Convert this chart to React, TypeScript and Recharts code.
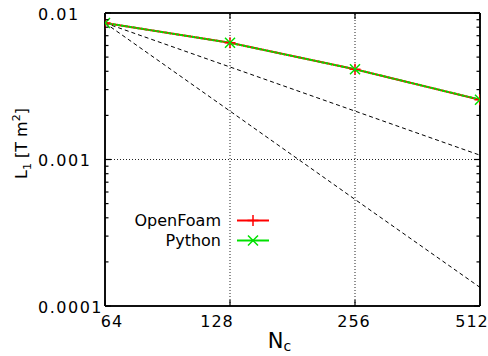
import React from 'react';
import { ComposedChart, Line, XAxis, YAxis, ReferenceLine, Legend } from 'recharts';

// ---- data ----
const cells = [64, 128, 256, 512];
const openFoam = [0.00855, 0.00626, 0.00413, 0.00256];
const python = [0.00855, 0.00626, 0.00413, 0.00256];
const firstOrder = [0.00855, 0.00428, 0.00214, 0.00107];
const secondOrder = [0.00855, 0.00214, 0.000534, 0.000134];

const xTicks = [64, 128, 256, 512];
const xTickLabels = ['64', '128', '256', '512'];
const xLabelShift = [7, -13, -1, -8];
const yMajor = [0.0001, 0.001, 0.01];
const yMajorLabels = ['0.0001', '0.001', '0.01'];
const yMinor = [0.0002, 0.0003, 0.0004, 0.0005, 0.0006, 0.0007, 0.0008, 0.0009,
  0.002, 0.003, 0.004, 0.005, 0.006, 0.007, 0.008, 0.009];
const xGrid = [128, 256];
const yGrid = [0.001];
const xDomain = [64, 512];
const yDomain = [0.0001, 0.01];

const seriesNames = ['OpenFoam', 'Python'];
const seriesColors = ['#ff0000', '#00e000'];

const data = cells.map((n, i) => ({
  n,
  openFoam: openFoam[i],
  python: python[i],
  firstOrder: firstOrder[i],
  secondOrder: secondOrder[i],
}));

const yTicks = [...yMajor, ...yMinor].sort((a, b) => a - b);

const FONT = '"DejaVu Sans", sans-serif';
const AXIS = '#000000';

const isMajorY = (v: number) => yMajor.some((m) => Math.abs(m - v) / m < 1e-6);
const majorYLabel = (v: number) => {
  const i = yMajor.findIndex((m) => Math.abs(m - v) / m < 1e-6);
  return i >= 0 ? yMajorLabels[i] : '';
};

const LeftTick = (props: any) => {
  const { x, y, payload } = props;
  const major = isMajorY(payload.value);
  return (
    <g>
      <line x1={x} x2={x + (major ? 6 : 3.5)} y1={y} y2={y} stroke={AXIS} strokeWidth={1.2} />
      {major && (
        <text x={x - 67} y={y + 1} textAnchor="start" dominantBaseline="central"
          fontFamily={FONT} fontSize={16} letterSpacing={1.5} fill="#000">
          {majorYLabel(payload.value)}
        </text>
      )}
    </g>
  );
};

const RightTick = (props: any) => {
  const { x, y, payload } = props;
  const major = isMajorY(payload.value);
  return <line x1={x} x2={x - (major ? 6 : 3.5)} y1={y} y2={y} stroke={AXIS} strokeWidth={1.2} />;
};

const BottomTick = (props: any) => {
  const { x, y, payload } = props;
  const i = xTicks.indexOf(payload.value);
  return (
    <g>
      <line x1={x} x2={x} y1={y} y2={y - 6} stroke={AXIS} strokeWidth={1.2} />
      <text x={x + (xLabelShift[i] || 0)} y={y + 15} textAnchor="middle" dominantBaseline="central"
        fontFamily={FONT} fontSize={16} letterSpacing={1} fill="#000">
        {xTickLabels[i]}
      </text>
    </g>
  );
};

const TopTick = (props: any) => {
  const { x, y } = props;
  return <line x1={x} x2={x} y1={y} y2={y + 6} stroke={AXIS} strokeWidth={1.2} />;
};

const plusPath = (cx: number, cy: number, s: number) =>
  `M${cx - s},${cy}H${cx + s}M${cx},${cy - s}V${cy + s}`;
const crossPath = (cx: number, cy: number, s: number) =>
  `M${cx - s},${cy - s}L${cx + s},${cy + s}M${cx - s},${cy + s}L${cx + s},${cy - s}`;

const PlusDot = (props: any) => (
  <path key={`p-${props.index}`} d={plusPath(props.cx, props.cy, 5.5)} stroke={seriesColors[0]} strokeWidth={1.5} fill="none" />
);
const CrossDot = (props: any) => (
  <path key={`x-${props.index}`} d={crossPath(props.cx, props.cy, 5)} stroke={seriesColors[1]} strokeWidth={1.5} fill="none" />
);

const renderLegend = () => (
  <svg width={150} height={50} style={{ overflow: 'visible', display: 'block' }}>
    {seriesNames.map((name, i) => {
      const cy = 13.5 + i * 20;
      return (
        <g key={name}>
          <text x={91} y={cy} textAnchor="end" dominantBaseline="central"
            fontFamily={FONT} fontSize={16} fill="#000">{name}</text>
          <line x1={107} x2={139} y1={cy} y2={cy} stroke={seriesColors[i]} strokeWidth={2} />
          <path d={i === 0 ? plusPath(123, cy, 5.5) : crossPath(123, cy, 5)}
            stroke={seriesColors[i]} strokeWidth={1.5} fill="none" />
        </g>
      );
    })}
  </svg>
);

const YLabel = (props: any) => {
  const vb = props.viewBox || { x: 0, y: 0, width: 0, height: 0 };
  const cx = vb.x + 27;
  const cy = vb.y + vb.height / 2 - 16;
  return (
    <text x={cx} y={cy} transform={`rotate(-90, ${cx}, ${cy})`} textAnchor="middle"
      fontFamily={FONT} fontSize={16} fill="#000">
      L<tspan dy={4} fontSize={11}>1</tspan>
      <tspan dy={-4}> [T m</tspan>
      <tspan dy={-7} fontSize={11}>2</tspan>
      <tspan dy={7}>]</tspan>
    </text>
  );
};

const XLabel = (props: any) => {
  const vb = props.viewBox || { x: 0, y: 0, width: 0, height: 0 };
  const cx = vb.x + vb.width / 2 - 13;
  const cy = vb.y + 42;
  return (
    <text x={cx} y={cy} textAnchor="middle" fontFamily={FONT} fontSize={21} fill="#000">
      N<tspan dy={3} fontSize={14}>c</tspan>
    </text>
  );
};

export default function App() {
  return (
    <div style={{ position: 'absolute', left: 0, top: 0, width: 488, height: 356 }}>
      <ComposedChart width={488} height={356} data={data}
        margin={{ top: 12, right: 7, bottom: 0, left: 0 }}>
        <XAxis xAxisId="bottom" dataKey="n" type="number" scale="log" domain={xDomain}
          allowDataOverflow ticks={xTicks} interval={0} height={50} orientation="bottom"
          tickSize={0} tickMargin={0} tickLine={false} tick={BottomTick}
          axisLine={{ stroke: AXIS, strokeWidth: 1.5 }} label={<XLabel />} />
        <XAxis xAxisId="top" dataKey="n" type="number" scale="log" domain={xDomain}
          allowDataOverflow ticks={xTicks} interval={0} height={1} orientation="top"
          tickSize={0} tickMargin={0} tickLine={false} tick={TopTick}
          axisLine={{ stroke: AXIS, strokeWidth: 1.5 }} />
        <YAxis yAxisId="left" type="number" scale="log" domain={yDomain}
          allowDataOverflow ticks={yTicks} interval={0} width={105} orientation="left"
          tickSize={0} tickMargin={0} tickLine={false} tick={LeftTick}
          axisLine={{ stroke: AXIS, strokeWidth: 1.5 }} label={<YLabel />} />
        <YAxis yAxisId="right" type="number" scale="log" domain={yDomain}
          allowDataOverflow ticks={yTicks} interval={0} width={1} orientation="right"
          tickSize={0} tickMargin={0} tickLine={false} tick={RightTick}
          axisLine={{ stroke: AXIS, strokeWidth: 1.5 }} />

        {xGrid.map((v) => (
          <ReferenceLine key={`gx-${v}`} x={v} xAxisId="bottom" yAxisId="left"
            stroke="#222" strokeWidth={1} strokeDasharray="1 2" />
        ))}
        {yGrid.map((v) => (
          <ReferenceLine key={`gy-${v}`} y={v} xAxisId="bottom" yAxisId="left"
            stroke="#222" strokeWidth={1} strokeDasharray="1 2" />
        ))}

        <Line xAxisId="bottom" yAxisId="left" dataKey="firstOrder" stroke="#000" strokeWidth={1}
          strokeDasharray="4 3" dot={false} activeDot={false} legendType="none" isAnimationActive={false} />
        <Line xAxisId="bottom" yAxisId="left" dataKey="secondOrder" stroke="#000" strokeWidth={1}
          strokeDasharray="4 3" dot={false} activeDot={false} legendType="none" isAnimationActive={false} />
        <Line xAxisId="bottom" yAxisId="left" dataKey="openFoam" name={seriesNames[0]}
          stroke={seriesColors[0]} strokeWidth={2} dot={PlusDot} activeDot={false} isAnimationActive={false} />
        <Line xAxisId="bottom" yAxisId="left" dataKey="python" name={seriesNames[1]}
          stroke={seriesColors[1]} strokeWidth={2} strokeDasharray="3 1" dot={CrossDot} activeDot={false} isAnimationActive={false} />

        {xDomain.map((v) => (
          <ReferenceLine key={`fx-${v}`} x={v} xAxisId="bottom" yAxisId="left"
            stroke={AXIS} strokeWidth={1.5} ifOverflow="visible" />
        ))}
        {yDomain.map((v) => (
          <ReferenceLine key={`fy-${v}`} y={v} xAxisId="bottom" yAxisId="left"
            stroke={AXIS} strokeWidth={1.5} ifOverflow="visible" />
        ))}

        <Legend content={renderLegend} layout="horizontal" verticalAlign="middle" align="center"
          wrapperStyle={{ position: 'absolute', left: 130, top: 207, width: 150, height: 50 }} />
      </ComposedChart>
    </div>
  );
}
